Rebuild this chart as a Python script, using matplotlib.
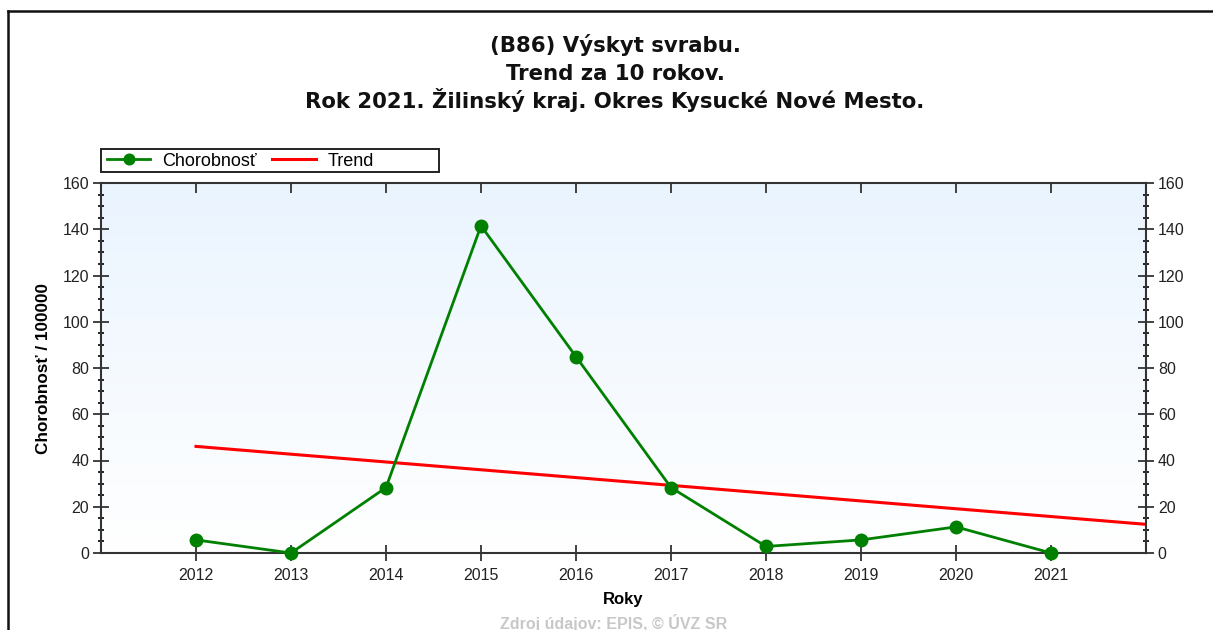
import numpy as np
import matplotlib.pyplot as plt
from matplotlib.lines import Line2D
from matplotlib.patches import Rectangle
from matplotlib.ticker import MultipleLocator

plt.rcParams['font.family'] = ['Liberation Sans', 'DejaVu Sans']

# Incidence of scabies per 100000, Kysucké Nové Mesto district
years = [2012, 2013, 2014, 2015, 2016, 2017, 2018, 2019, 2020, 2021]
incidence = [5.66, 0.0, 28.3, 141.5, 84.9, 28.3, 2.83, 5.66, 11.3, 0.0]

# Linear trend endpoints
trend_years = [2012, 2022]
trend_values = [46.1, 12.4]

title_lines = ['(B86) Výskyt svrabu.',
               'Trend za 10 rokov.',
               'Rok 2021. Žilinský kraj. Okres Kysucké Nové Mesto.']

W, H = 1213, 630
fig = plt.figure(figsize=(W / 100, H / 100), dpi=100)
ax = fig.add_axes([101 / W, 1 - 553 / H, 1045 / W, 370 / H])

# soft blue-to-white background
grad = np.linspace(0, 1, 256).reshape(-1, 1)
top = np.array([0.918, 0.957, 0.996])
bot = np.array([1.0, 1.0, 1.0])
img = top * (1 - grad)[..., None] + bot * grad[..., None]
ax.imshow(img, extent=[2011, 2022, 0, 160], aspect='auto', origin='upper', zorder=0)

trend_line, = ax.plot(trend_years, trend_values, color='#ff0000', lw=2.2,
                      label='Trend', zorder=2)
inc_line, = ax.plot(years, incidence, color='#008000', lw=2.0, marker='o',
                    markersize=9, label='Chorobnosť', zorder=3, clip_on=False)

ax.set_xlim(2011, 2022)
ax.set_ylim(0, 160)
ax.set_xticks(years)
ax.yaxis.set_major_locator(MultipleLocator(20))
ax.yaxis.set_minor_locator(MultipleLocator(5))

for s in ax.spines.values():
    s.set_color('#333333')
    s.set_linewidth(1.5)

ax.tick_params(axis='x', which='major', direction='inout', length=11, width=1.2,
               labelsize=11.5, colors='#222222', pad=5)
ax.tick_params(axis='y', which='major', direction='inout', length=11, width=1.2,
               right=True, labelright=True, labelsize=11.5, colors='#222222', pad=3)
ax.tick_params(axis='y', which='minor', direction='inout', length=5, width=1.2,
               right=True)

# inward ticks along the top edge
secx = ax.secondary_xaxis('top')
secx.set_xticks(years)
secx.tick_params(direction='in', length=7, width=1.2, labeltop=False, colors='#222222')
secx.spines['top'].set_visible(False)

ax.set_xlabel('Roky', fontsize=12, fontweight='bold', labelpad=7)
ax.set_ylabel('Chorobnosť / 100000', fontsize=12.3, fontweight='bold')
ax.yaxis.set_label_coords(-0.048, 0.5)

leg = fig.legend(handles=[inc_line, trend_line], loc='center left',
                 bbox_to_anchor=(107 / W, 1 - 161 / H), ncol=2, frameon=False,
                 fontsize=13, borderpad=0, borderaxespad=0, handlelength=2.4,
                 handletextpad=0.67, columnspacing=0.85, markerscale=0.85)
fig.add_artist(Rectangle((101 / W, 1 - 172 / H), 338 / W, 23 / H, fill=False,
                         edgecolor='#222222', lw=1.4, transform=fig.transFigure))

# three title lines, fixed baseline spacing
for i, line in enumerate(title_lines):
    fig.text(615 / W, 1 - (52.5 + 28 * i) / H, line, ha='center', va='baseline',
             fontsize=15.3, fontweight='bold', color='#111111',
             family=['DejaVu Sans'])

fig.text(0.506, 1 - 623 / H, 'Zdroj údajov: EPIS, © ÚVZ SR', ha='center',
         va='center', fontsize=11.5, fontweight='bold', color='#c8c8c8')

# outer frame (left and top edges)
fig.add_artist(Line2D([7.5 / W, 7.5 / W], [0, 1 - 11 / H],
                      color='#111111', lw=1.8, transform=fig.transFigure))
fig.add_artist(Line2D([7.5 / W, 1], [1 - 11 / H, 1 - 11 / H],
                      color='#111111', lw=1.8, transform=fig.transFigure))

fig.savefig('out.png', dpi=100)
